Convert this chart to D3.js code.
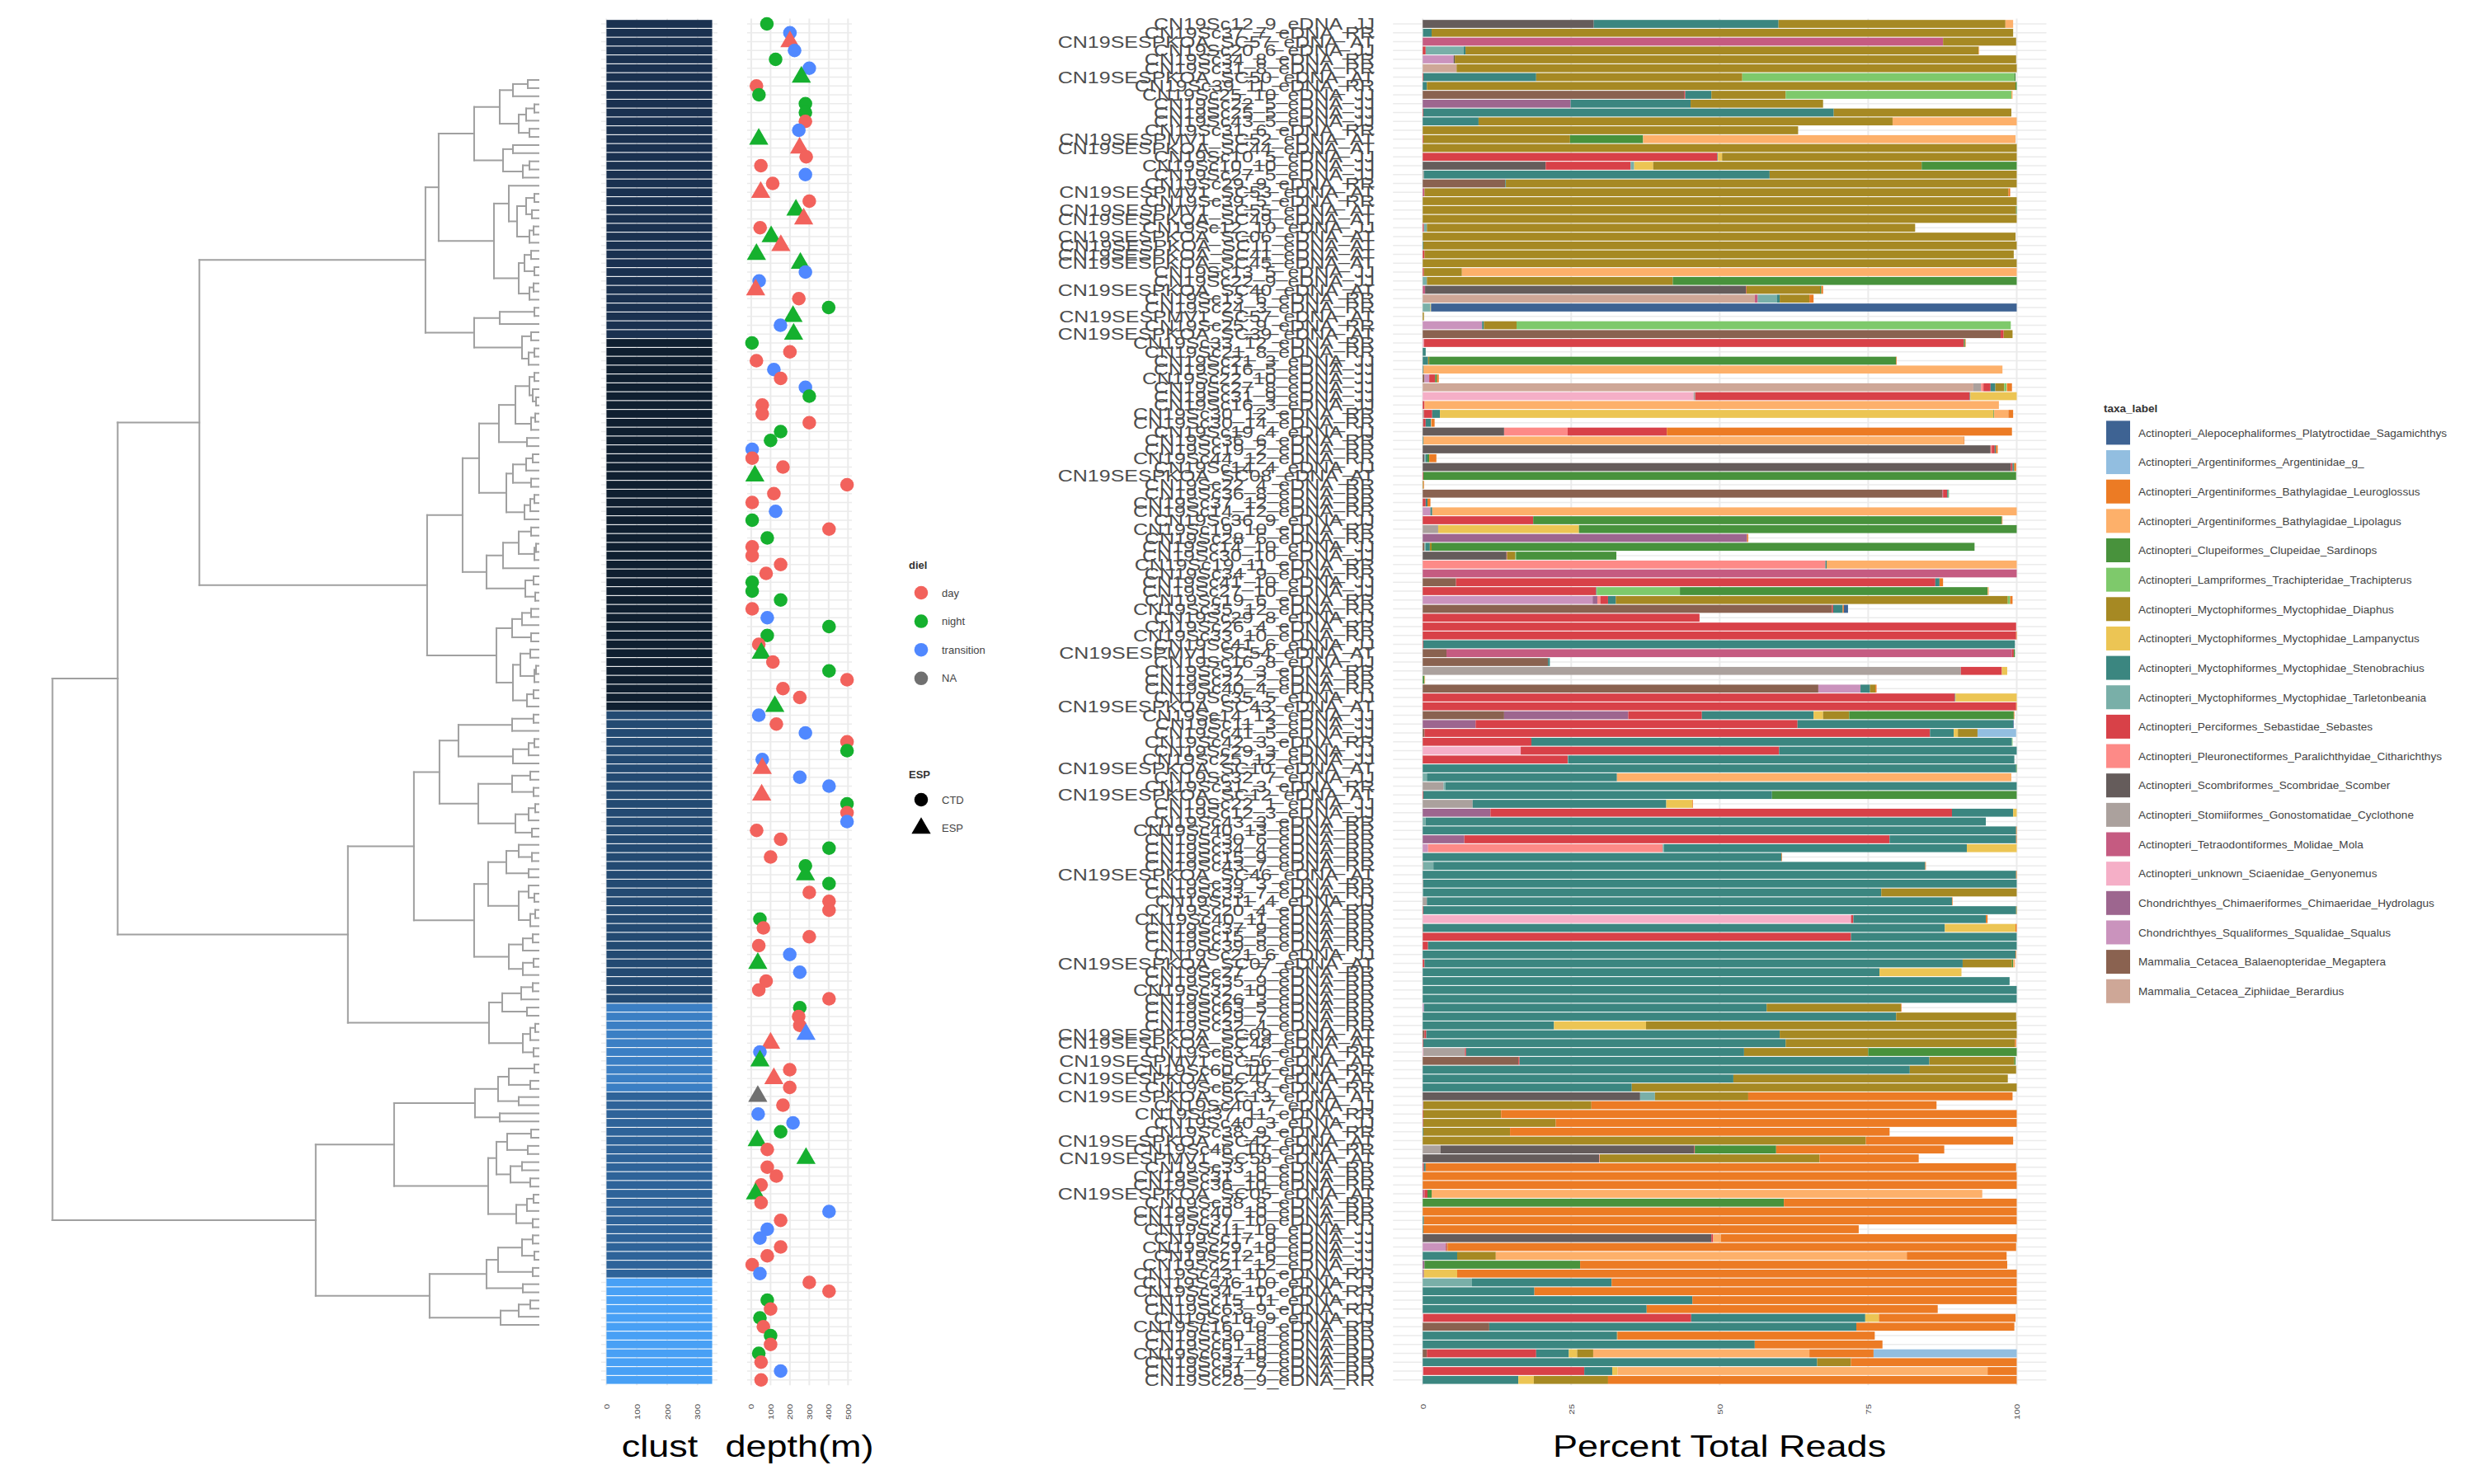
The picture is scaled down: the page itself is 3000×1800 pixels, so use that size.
<!DOCTYPE html>
<html><head><meta charset="utf-8">
<script src="https://cdn.jsdelivr.net/npm/d3@7"></script>
<style>body{margin:0;background:#fff} text{font-family:"Liberation Sans",Arial,sans-serif}</style>
</head><body><svg id="c" width="3000" height="1800"></svg>
<script>
// ---------------- DATA ----------------
const taxa = [
 "Actinopteri_Alepocephaliformes_Platytroctidae_Sagamichthys",
 "Actinopteri_Argentiniformes_Argentinidae_g_",
 "Actinopteri_Argentiniformes_Bathylagidae_Leuroglossus",
 "Actinopteri_Argentiniformes_Bathylagidae_Lipolagus",
 "Actinopteri_Clupeiformes_Clupeidae_Sardinops",
 "Actinopteri_Lampriformes_Trachipteridae_Trachipterus",
 "Actinopteri_Myctophiformes_Myctophidae_Diaphus",
 "Actinopteri_Myctophiformes_Myctophidae_Lampanyctus",
 "Actinopteri_Myctophiformes_Myctophidae_Stenobrachius",
 "Actinopteri_Myctophiformes_Myctophidae_Tarletonbeania",
 "Actinopteri_Perciformes_Sebastidae_Sebastes",
 "Actinopteri_Pleuronectiformes_Paralichthyidae_Citharichthys",
 "Actinopteri_Scombriformes_Scombridae_Scomber",
 "Actinopteri_Stomiiformes_Gonostomatidae_Cyclothone",
 "Actinopteri_Tetraodontiformes_Molidae_Mola",
 "Actinopteri_unknown_Sciaenidae_Genyonemus",
 "Chondrichthyes_Chimaeriformes_Chimaeridae_Hydrolagus",
 "Chondrichthyes_Squaliformes_Squalidae_Squalus",
 "Mammalia_Cetacea_Balaenopteridae_Megaptera",
 "Mammalia_Cetacea_Ziphiidae_Berardius"];
const taxaColors = ["#3e6393","#92bee0","#ec7b24","#fdb06a","#48923c","#7ec96b","#a68923","#ecc554",
 "#3b8680","#79afa8","#d84148","#fd8a87","#655c5b","#aba19d","#c55b81","#f5afc7","#9d668f","#ca93bd","#8a6250","#cea797"];

const samples = [
"CN19Sc12_9_eDNA_JJ","CN19Sc37_7_eDNA_RR","CN19SESPKOA_SC57_eDNA_AT","CN19Sc20_6_eDNA_JJ","CN19Sc34_8_eDNA_RR",
"CN19Sc31_8_eDNA_RR","CN19SESPKOA_SC50_eDNA_AT","CN19Sc39_11_eDNA_RR","CN19Sc25_10_eDNA_JJ","CN19Sc22_5_eDNA_JJ",
"CN19Sc25_5_eDNA_JJ","CN19Sc43_5_eDNA_JJ","CN19Sc31_6_eDNA_RR","CN19SESPMV1_SC52_eDNA_AT","CN19SESPKOA_SC44_eDNA_AT",
"CN19Sc10_5_eDNA_JJ","CN19Sc10_10_eDNA_JJ","CN19Sc27_5_eDNA_JJ","CN19Sc29_9_eDNA_RR","CN19SESPMV1_SC53_eDNA_AT",
"CN19Sc39_5_eDNA_RR","CN19SESPMV1_SC55_eDNA_AT","CN19SESPKOA_SC49_eDNA_AT","CN19Sc12_10_eDNA_JJ","CN19SESPKOA_SC06_eDNA_AT",
"CN19SESPKOA_SC11_eDNA_AT","CN19SESPKOA_SC41_eDNA_AT","CN19SESPKOA_SC45_eDNA_AT","CN19Sc13_5_eDNA_JJ","CN19Sc22_9_eDNA_JJ",
"CN19SESPKOA_SC40_eDNA_AT","CN19Sc13_6_eDNA_RR","CN19Sc24_3_eDNA_RR","CN19SESPMV1_SC57_eDNA_AT","CN19Sc25_9_eDNA_RR",
"CN19SESPKOA_SC39_eDNA_AT","CN19Sc33_12_eDNA_RR","CN19Sc21_8_eDNA_RR","CN19Sc21_3_eDNA_JJ","CN19Sc16_5_eDNA_JJ",
"CN19Sc22_10_eDNA_JJ","CN19Sc27_8_eDNA_JJ","CN19Sc31_9_eDNA_JJ","CN19Sc16_3_eDNA_JJ","CN19Sc30_12_eDNA_RR",
"CN19Sc30_14_eDNA_RR","CN19Sc19_4_eDNA_JJ","CN19Sc36_6_eDNA_RR","CN19Sc19_2_eDNA_RR","CN19Sc44_12_eDNA_RR",
"CN19Sc14_4_eDNA_JJ","CN19SESPKOA_SC08_eDNA_AT","CN19Sc22_4_eDNA_RR","CN19Sc36_8_eDNA_RR","CN19Sc37_12_eDNA_RR",
"CN19Sc14_12_eDNA_RR","CN19Sc36_9_eDNA_JJ","CN19Sc19_10_eDNA_RR","CN19Sc28_6_eDNA_RR","CN19Sc14_10_eDNA_JJ",
"CN19Sc30_10_eDNA_JJ","CN19Sc19_11_eDNA_RR","CN19Sc34_9_eDNA_RR","CN19Sc41_10_eDNA_JJ","CN19Sc27_10_eDNA_JJ",
"CN19Sc19_6_eDNA_RR","CN19Sc35_12_eDNA_RR","CN19Sc29_8_eDNA_JJ","CN19Sc26_4_eDNA_RR","CN19Sc33_10_eDNA_RR",
"CN19Sc41_6_eDNA_JJ","CN19SESPMV1_SC54_eDNA_AT","CN19Sc16_8_eDNA_JJ","CN19Sc37_3_eDNA_RR","CN19Sc22_2_eDNA_RR",
"CN19Sc40_4_eDNA_RR","CN19Sc35_5_eDNA_JJ","CN19SESPKOA_SC43_eDNA_AT","CN19Sc14_12_eDNA_JJ","CN19Sc11_3_eDNA_JJ",
"CN19Sc41_5_eDNA_JJ","CN19Sc42_3_eDNA_RR","CN19Sc29_3_eDNA_JJ","CN19Sc25_12_eDNA_JJ","CN19SESPKOA_SC10_eDNA_AT",
"CN19Sc32_7_eDNA_JJ","CN19Sc31_3_eDNA_RR","CN19SESPKOA_SC12_eDNA_AT","CN19Sc22_1_eDNA_JJ","CN19Sc12_3_eDNA_JJ",
"CN19Sc43_3_eDNA_RR","CN19Sc40_13_eDNA_RR","CN19Sc30_6_eDNA_RR","CN19Sc34_4_eDNA_RR","CN19Sc15_9_eDNA_RR",
"CN19Sc43_7_eDNA_RR","CN19SESPKOA_SC46_eDNA_AT","CN19Sc39_3_eDNA_RR","CN19Sc33_7_eDNA_RR","CN19Sc11_4_eDNA_JJ",
"CN19Sc20_4_eDNA_RR","CN19Sc40_11_eDNA_RR","CN19Sc37_9_eDNA_RR","CN19Sc15_5_eDNA_RR","CN19Sc39_8_eDNA_RR",
"CN19Sc21_6_eDNA_JJ","CN19SESPKOA_SC07_eDNA_AT","CN19Sc27_7_eDNA_RR","CN19Sc35_9_eDNA_RR","CN19Sc32_10_eDNA_RR",
"CN19Sc26_3_eDNA_RR","CN19Sc63_5_eDNA_RR","CN19Sc29_7_eDNA_RR","CN19Sc32_4_eDNA_RR","CN19SESPKOA_SC09_eDNA_AT",
"CN19SESPKOA_SC48_eDNA_AT","CN19Sc63_7_eDNA_RR","CN19SESPMV1_SC56_eDNA_AT","CN19Sc60_10_eDNA_RR","CN19SESPKOA_SC47_eDNA_AT",
"CN19Sc62_8_eDNA_RR","CN19SESPKOA_SC13_eDNA_AT","CN19Sc40_7_eDNA_JJ","CN19Sc37_11_eDNA_RR","CN19Sc40_3_eDNA_JJ",
"CN19Sc38_9_eDNA_RR","CN19SESPKOA_SC42_eDNA_AT","CN19Sc46_10_eDNA_RR","CN19SESPMV1_SC58_eDNA_AT","CN19Sc33_6_eDNA_RR",
"CN19Sc31_10_eDNA_RR","CN19Sc36_10_eDNA_RR","CN19SESPKOA_SC05_eDNA_AT","CN19Sc38_8_eDNA_RR","CN19Sc40_10_eDNA_RR",
"CN19Sc37_10_eDNA_RR","CN19Sc11_10_eDNA_JJ","CN19Sc17_9_eDNA_JJ","CN19Sc29_10_eDNA_JJ","CN19Sc12_6_eDNA_JJ",
"CN19Sc21_12_eDNA_JJ","CN19Sc43_10_eDNA_RR","CN19Sc46_10_eDNA_JJ","CN19Sc34_10_eDNA_RR","CN19Sc15_11_eDNA_JJ",
"CN19Sc63_9_eDNA_RR","CN19Sc18_9_eDNA_JJ","CN19Sc16_10_eDNA_RR","CN19Sc30_8_eDNA_RR","CN19Sc61_8_eDNA_RD",
"CN19Sc63_10_eDNA_RD","CN19Sc37_8_eDNA_RR","CN19Sc61_7_eDNA_RD","CN19Sc28_9_eDNA_RR"];

// cluster id per sample (fill of the "clust" column)
const cluster = [
1,1,1,1,1,1,1,1,1,1, 1,1,1,1,1,1,1,1,1,1, 1,1,1,1,1,1,1,1,1,1, 1,1,1,1,1,1,2,2,2,2,
2,2,2,2,2,2,2,2,2,2, 2,2,2,2,2,2,2,2,2,2, 2,2,2,2,2,2,2,2,2,2, 2,2,2,2,2,2,2,2,3,3,
3,3,3,3,3,3,3,3,3,3, 3,3,3,3,3,3,3,3,3,3, 3,3,3,3,3,3,3,3,3,3, 3,4,4,4,4,4,4,4,4,4,
4,5,5,5,5,5,5,5,5,5, 5,5,5,5,5,5,5,5,5,5, 5,5,6,6,6,6,6,6,6,6, 6,6,6,6];
const clusterColors = ["#1a3150","#0f1f30","#234a72","#3b7fc4","#2e6399","#48a0f5"];
const clustCount = 348;

const depth = [
81,200,200,224,126,300,259,27,40,280, 280,280,246,39,250,284,50,280,111,49,
300,231,271,46,103,153,27,254,280,41, 23,246,400,216,151,219,4,200,27,117,
152,280,300,57,57,300,152,100,5,5, 164,19,495,117,5,126,5,402,83,5,
5,152,77,5,5,152,5,83,402,83, 39,52,112,402,495,164,251,122,39,130,
280,495,495,57,57,251,402,54,495,495, 495,28,152,402,100,280,280,402,300,402,
402,45,63,300,39,199,34,251,77,39, 402,251,245,251,283,100,45,45,199,117,
199,34,164,36,216,152,31,83,283,83, 130,51,22,51,402,152,83,45,152,83,
5,45,300,402,83,100,45,63,100,100, 39,51,152,51];

const D="day", N="night", T="transition", X="NA";
const diel = [
N,T,D,T,N,T,N,D,N,N, N,D,T,N,D,D,D,T,D,D, D,N,D,D,N,D,N,N,T,T, D,D,N,N,T,N,N,D,D,T,
D,T,N,D,D,D,N,N,T,D, D,N,D,D,D,T,N,D,N,D, D,D,D,N,N,N,D,T,N,N, D,N,D,N,D,D,D,N,T,D,
T,D,N,T,D,T,T,D,N,D, T,D,D,N,D,N,N,N,D,D, D,N,D,D,D,T,N,T,D,D, D,N,D,D,T,D,T,N,D,D,
D,X,D,T,T,N,N,D,N,D, D,D,N,D,T,D,T,T,D,D, D,T,D,D,N,D,N,D,N,D, N,D,T,D];
const dielLevels = ["day","night","transition","NA"];
const dielColors = ["#f2625c","#15b02e","#5088ff","#707070"];

const C="CTD", E="ESP";
const method = [
C,C,E,C,C,C,E,C,C,C, C,C,C,E,E,C,C,C,C,E, C,E,E,C,E,E,E,E,C,C, E,C,C,E,C,E,C,C,C,C,
C,C,C,C,C,C,C,C,C,C, C,E,C,C,C,C,C,C,C,C, C,C,C,C,C,C,C,C,C,C, C,E,C,C,C,C,C,E,C,C,
C,C,C,C,E,C,C,E,C,C, C,C,C,C,C,C,E,C,C,C, C,C,C,C,C,C,E,C,C,C, C,C,C,C,E,E,C,E,C,E,
C,E,C,C,C,C,E,C,E,C, C,C,E,C,C,C,C,C,C,C, C,C,C,C,C,C,C,C,C,C, C,C,C,C];
const methodLevels = ["CTD","ESP"];

// percent of reads per sample: [taxon index, percent]
const composition = [
[[12,28.8],[8,31.1],[6,38.2],[3,1.3]],
[[9,0.1],[8,1.4],[6,97.9]],
[[14,87.6],[6,12.3]],
[[10,0.5],[9,6.4],[8,0.3],[6,86.4],[3,0.1]],
[[17,5.2],[12,0.2],[6,94.5]],
[[19,5.7],[6,94.3]],
[[10,0.1],[8,19.0],[6,34.7],[5,45.8],[4,0.2]],
[[8,0.7],[6,99.1],[4,0.2]],
[[18,44.0],[10,0.2],[8,4.4],[6,12.5],[5,38.0],[3,0.2]],
[[16,24.9],[8,20.2],[6,22.3]],
[[10,0.1],[8,69.1],[6,29.9]],
[[8,9.4],[6,69.7],[3,20.9]],
[[6,63.2]],
[[10,0.1],[6,24.7],[4,12.3],[3,62.7]],
[[6,100]],
[[10,49.6],[8,0.1],[7,0.7],[6,49.6]],
[[12,20.7],[10,14.3],[9,0.6],[7,3.2],[6,45.2],[4,16.0]],
[[13,0.2],[8,58.2],[6,41.6]],
[[18,13.9],[8,0.1],[6,86.0]],
[[14,0.3],[6,98.3],[2,0.3]],
[[6,100]],
[[6,99.9],[4,0.1]],
[[6,100]],
[[10,0.2],[9,0.5],[6,82.2]],
[[6,99.8]],
[[8,0.1],[6,99.9]],
[[10,0.3],[6,99.2]],
[[6,100]],
[[10,0.2],[6,6.4],[3,93.4]],
[[9,0.7],[6,41.4],[4,57.9]],
[[14,0.4],[12,54.0],[10,0.1],[6,12.4],[4,0.2],[2,0.3]],
[[19,55.9],[14,0.5],[9,3.2],[8,0.5],[6,5.0],[2,0.7]],
[[9,1.3],[7,0.1],[0,98.6]],
[[6,0.2]],
[[17,10.0],[8,0.3],[6,5.5],[5,83.2]],
[[18,97.3],[10,0.5],[6,1.5]],
[[15,0.2],[10,90.9],[4,0.2],[2,0.1]],
[[8,0.5]],
[[8,0.9],[6,0.2],[4,78.6],[2,0.1]],
[[8,0.1],[3,97.5]],
[[18,0.3],[17,0.8],[10,1.0],[4,0.3],[2,0.3]],
[[19,92.7],[13,1.3],[11,0.4],[10,1.2],[8,0.8],[6,1.5],[5,0.4],[3,0.1],[2,0.8]],
[[15,45.6],[13,0.3],[10,46.2],[8,0.1],[7,7.8]],
[[10,0.3],[3,96.7]],
[[13,0.2],[10,1.4],[8,1.3],[7,93.2],[4,0.1],[3,2.4],[2,0.8]],
[[13,0.1],[10,0.4],[8,0.9],[3,0.1],[2,0.5]],
[[12,13.7],[11,10.7],[10,16.7],[2,58.1]],
[[8,0.1],[3,91.0],[2,0.1]],
[[12,95.6],[11,0.2],[10,0.5],[8,0.2],[2,0.3]],
[[12,0.3],[9,0.2],[8,0.3],[4,0.3],[2,1.2]],
[[12,99.0],[10,0.3],[8,0.2],[4,0.1],[2,0.3]],
[[10,0.1],[4,99.8]],
[[6,0.1],[2,0.1]],
[[18,87.5],[14,0.1],[10,0.7],[8,0.2],[5,0.1]],
[[10,0.5],[8,0.3],[2,0.5]],
[[17,1.3],[8,0.3],[3,98.4]],
[[10,18.6],[4,78.9],[2,0.1]],
[[13,2.6],[7,23.7],[4,73.7]],
[[16,54.6],[2,0.2]],
[[18,0.3],[9,0.2],[8,0.7],[6,0.3],[4,91.4]],
[[12,14.1],[10,0.1],[6,1.4],[5,0.1],[4,16.9]],
[[11,67.8],[8,0.2],[3,32.0]],
[[14,100]],
[[18,5.6],[10,80.7],[8,0.7],[2,0.6]],
[[10,29.2],[8,0.1],[5,14.0],[4,51.8],[3,0.2]],
[[17,28.6],[16,0.8],[11,0.5],[10,1.3],[8,1.3],[6,66.0],[5,0.4],[2,0.4]],
[[18,68.9],[10,0.2],[8,1.6],[2,0.2],[0,0.7]],
[[10,46.6]],
[[10,99.9]],
[[10,99.9],[2,0.1]],
[[10,0.1],[8,99.6]],
[[18,4.0],[14,95.2],[10,0.3],[4,0.2]],
[[18,21.1],[8,0.3]],
[[13,90.6],[10,6.9],[7,0.9]],
[[4,0.3],[3,0.1]],
[[18,66.6],[17,7.1],[8,1.6],[6,0.9],[2,0.2]],
[[10,89.6],[8,0.1],[7,10.3]],
[[10,99.9],[2,0.1]],
[[18,13.7],[16,20.9],[10,12.4],[8,18.8],[7,1.6],[6,4.4],[4,27.7],[2,0.1]],
[[16,8.9],[10,54.2],[8,36.3],[0,0.1]],
[[18,0.3],[10,85.1],[8,4.0],[7,0.7],[6,3.3],[1,6.5]],
[[10,18.3],[8,80.9],[5,0.1]],
[[15,16.5],[10,43.5],[8,40.0]],
[[10,24.4],[9,0.1],[8,75.1]],
[[8,99.9],[4,0.1]],
[[9,0.7],[8,32.0],[3,66.4]],
[[13,3.5],[9,0.3],[8,96.2]],
[[10,0.1],[8,58.7],[4,41.2]],
[[13,8.4],[8,32.6],[7,4.4],[2,0.1]],
[[16,11.4],[10,77.7],[8,10.3],[7,0.6]],
[[9,0.5],[8,94.3]],
[[8,99.9],[2,0.1]],
[[16,7.0],[10,71.6],[8,21.3],[2,0.1]],
[[17,0.9],[11,39.5],[9,0.2],[8,51.0],[7,8.4]],
[[8,60.4],[2,0.1]],
[[13,0.1],[9,1.7],[8,82.8],[2,0.1]],
[[8,99.9],[2,0.1]],
[[13,0.1],[8,99.9]],
[[9,0.1],[8,77.1],[6,22.8]],
[[13,0.7],[8,88.4],[2,0.1]],
[[10,0.1],[8,99.8],[6,0.1]],
[[15,72.1],[10,0.4],[8,22.3],[2,0.3]],
[[18,0.1],[8,87.8],[7,11.9],[2,0.2]],
[[10,72.1],[8,27.9]],
[[10,0.9],[8,99.1]],
[[8,99.8],[2,0.1]],
[[10,0.3],[8,90.6],[6,8.3],[4,0.2],[3,0.3]],
[[8,76.9],[7,13.8]],
[[8,98.8]],
[[8,100]],
[[8,100]],
[[17,0.2],[8,57.7],[6,22.6],[2,0.1]],
[[8,79.7],[6,20.2]],
[[8,22.1],[7,15.5],[6,62.4]],
[[18,0.3],[10,0.3],[8,59.5],[6,39.9]],
[[10,0.1],[8,61.0],[6,38.6],[2,0.2]],
[[15,0.1],[13,7.0],[10,0.2],[8,46.8],[6,20.9],[4,25.0]],
[[18,16.1],[10,0.2],[8,69.0],[6,14.3],[4,0.2]],
[[8,82.0],[6,17.9]],
[[8,52.3],[6,46.2]],
[[8,35.2],[6,64.8]],
[[12,36.6],[9,2.5],[6,15.7],[2,44.5]],
[[17,0.1],[6,28.3],[2,58.1]],
[[10,0.1],[6,13.1],[2,86.8]],
[[14,0.1],[6,22.3],[2,77.6]],
[[8,0.1],[6,14.6],[2,63.9]],
[[6,74.6],[2,24.8]],
[[13,3.0],[12,42.7],[10,0.1],[4,13.7],[2,28.3]],
[[12,29.7],[11,0.1],[6,37.0],[2,16.7]],
[[10,0.2],[8,0.3],[2,99.4]],
[[2,100]],
[[2,100]],
[[14,0.3],[10,0.5],[4,0.7],[3,92.7]],
[[4,60.8],[2,39.2]],
[[2,100]],
[[8,0.2],[2,99.8]],
[[8,0.1],[2,73.3]],
[[12,48.6],[10,0.3],[3,1.3],[2,49.8]],
[[17,3.8],[16,0.1],[10,0.2],[6,0.1],[2,95.7]],
[[8,5.8],[6,6.5],[3,69.2],[2,16.8]],
[[16,0.3],[4,26.2],[2,71.9]],
[[16,0.2],[7,5.6],[2,94.2]],
[[9,8.3],[8,23.5],[2,68.2]],
[[8,18.8],[2,81.2]],
[[8,45.4],[2,54.6]],
[[8,37.7],[2,49.0]],
[[15,0.1],[10,45.1],[8,29.3],[7,2.3],[2,23.0]],
[[18,11.2],[8,61.8],[2,26.6]],
[[8,32.7],[6,0.1],[2,43.3]],
[[8,55.9],[2,21.5]],
[[18,0.7],[10,18.4],[8,5.5],[7,1.4],[6,2.7],[3,36.4],[2,10.8],[1,24.1]],
[[8,66.4],[6,5.7],[2,27.9]],
[[15,0.1],[10,27.1],[8,4.7],[7,0.9],[3,62.3],[2,4.9]],
[[8,16.1],[7,2.6],[6,12.5],[2,68.8]]
];

// dendrogram: [merge height, left, right]; 0 = leaf
const treeF = [1.37,
  [1.21,
    [0.78,
      [0.47,[0.31,[0.13,0,0],0],[0.24,[0.15,[0.05,0,0],0],[0.11,0,0]]],
      [0.43,[0.31,0,0],[0.19,[0.11,0,0],0]]],
    [0.54,
      [0.36,0,[0.26,[0.15,[0.05,0,0],[0.08,0,0]],[0.11,[0.06,0,0],0]]],
      [0.24,[0.17,[0.09,0,0],[0.05,0,0]],[0.11,[0.06,0,0],0]]]],
  [0.78,[0.47,[0.05,0,0],0],[0.20,[0.09,0,0],[0.12,[0.05,0,0],0]]]];
const treeG = [1.35,
  [0.92,
    [0.72,
      [0.48,[0.28,[0.11,[0.05,0,0],[0.07,0,[0.03,0,0]]],[0.09,[0.04,0,0],0]],[0.14,0,0]],
      [0.39,[0.31,[0.15,[0.07,0,0],0],[0.09,0,0]],[0.17,[0.10,[0.05,0,0],0],0]]],
    [0.63,[0.43,[0.24,[0.09,0,0],[0.05,[0.03,0,0],0]],0],[0.16,[0.06,0,0],[0.04,0,0]]]],
  [0.51,[0.32,[0.20,[0.09,0,0],0],[0.09,0,0]],[0.31,[0.22,[0.10,0,0],[0.05,[0.03,0,0],0]],[0.14,[0.06,0,0],0]]]];
const treeE = [2.31,
  [1.51,
    [1.20,
      [0.97,[0.32,[0.06,0,0],0],[0.31,[0.12,[0.05,0,0],0],0]],
      [0.73,[0.32,[0.10,0,0],[0.06,0,0]],[0.28,[0.12,[0.04,0,0],0],[0.08,0,0]]]],
    [0.78,
      [0.61,[0.39,[0.24,0,[0.08,0,0]],[0.12,0,0]],[0.24,[0.12,0,[0.05,0,0]],[0.10,[0.04,0,0],0]]],
      [0.36,[0.19,[0.07,0,0],0],[0.19,[0.06,0,0],0]]]],
  [0.60,[0.44,[0.21,[0.07,0,0],0],[0.14,0,0]],[0.19,[0.10,[0.04,0,0],0],[0.06,0,0]]]];
const treeC = [2.70,
  [1.75,
    [0.77,[0.49,[0.36,[0.05,0,0],[0.10,0,0]],[0.24,0,0]],[0.47,0,0]],
    [0.61,[0.51,[0.38,[0.09,0,0],[0.13,0,0]],[0.34,[0.20,0,0],[0.10,0,0]]],[0.27,[0.14,[0.06,0,0],0],[0.07,0,0]]]],
  [1.32,[0.63,[0.49,[0.20,[0.07,0,0],[0.05,0,0]],[0.07,0,0]],[0.19,0,0]],[0.46,[0.24,[0.10,0,0],0],0]]];
const tree = [5.89,[5.10,[4.11,treeF,treeG],treeE],treeC];

const clustTicks = [0,100,200,300];
const depthTicks = [0,100,200,300,400,500];
const pctTicks = [0,25,50,75,100];

// ---------------- DRAWING ----------------
const svg = d3.select("#c");
const n = samples.length;
const grid = "#ebebeb", tickCol = "#4d4d4d";
const rowY = d3.scalePoint().domain(d3.range(n)).range([29, 1673.75]);
const bandH = rowY.step() * 0.9;
const panelTop = 22.6, panelBot = 1680.2;

const clustX = d3.scaleLinear().domain([-17.4, 365.4]).range([729, 870]);
const depthX = d3.scaleLinear().domain([-21, 520]).range([906, 1033]);
const pctX = d3.scaleLinear().domain([-5, 105]).range([1689.2, 2481.5]);
const clustFill = d3.scaleOrdinal().domain([1,2,3,4,5,6]).range(clusterColors);
const dielFill = d3.scaleOrdinal().domain(dielLevels).range(dielColors);
const taxFill = d3.scaleOrdinal().domain(d3.range(taxa.length)).range(taxaColors);

function panelGrid(xs, ticks) {
  const g = svg.append("g");
  const [x0, x1] = xs.range();
  g.selectAll("line.h").data(d3.range(n)).join("line")
    .attr("x1", x0).attr("x2", x1).attr("y1", d => rowY(d)).attr("y2", d => rowY(d))
    .attr("stroke", grid).attr("stroke-width", 1.6);
  g.selectAll("line.v").data(ticks).join("line")
    .attr("x1", d => xs(d)).attr("x2", d => xs(d)).attr("y1", panelTop).attr("y2", panelBot)
    .attr("stroke", grid).attr("stroke-width", 2);
  svg.append("g").selectAll("text").data(ticks).join("text")
    .attr("transform", d => `translate(${xs(d)+3.5},1703) rotate(-90) scale(1.2,1)`)
    .attr("text-anchor", "end").attr("font-size", 9.5).attr("fill", tickCol)
    .text(d => d);
}
panelGrid(clustX, clustTicks);
panelGrid(depthX, depthTicks);
panelGrid(pctX, pctTicks);

// clust column
svg.append("g").selectAll("rect").data(d3.range(n)).join("rect")
  .attr("x", clustX(0)).attr("width", clustX(clustCount) - clustX(0))
  .attr("y", d => rowY(d) - bandH/2).attr("height", bandH)
  .attr("fill", d => clustFill(cluster[d]));

// depth points
const sym = d3.symbol();
svg.append("g").selectAll("path").data(d3.range(n)).join("path")
  .attr("transform", d => `translate(${depthX(depth[d])},${rowY(d)})`)
  .attr("d", d => method[d] === "ESP" ? sym.type(d3.symbolTriangle).size(235)() : sym.type(d3.symbolCircle).size(215)())
  .attr("fill", d => dielFill(diel[d]));

// stacked bars
const segs = [];
composition.forEach((row, i) => {
  let acc = 0;
  row.slice().sort((a, b) => b[0] - a[0]).forEach(([t, v]) => {
    segs.push({i, t, x0: acc, x1: acc + v});
    acc += v;
  });
});
svg.append("g").selectAll("rect").data(segs).join("rect")
  .attr("x", d => pctX(d.x0)).attr("width", d => Math.max(0.6, pctX(d.x1) - pctX(d.x0)))
  .attr("y", d => rowY(d.i) - bandH/2).attr("height", bandH)
  .attr("fill", d => taxFill(d.t));

// sample labels
svg.append("g").selectAll("text").data(d3.range(n)).join("text")
  .attr("transform", d => `translate(1667,${rowY(d)}) scale(1.25,1)`)
  .attr("dy", "0.36em").attr("text-anchor", "end").attr("font-size", 20).attr("fill", tickCol)
  .text(d => samples[d]);

// axis titles
[["clust", 800], ["depth(m)", 969.5], ["Percent Total Reads", 2085]].forEach(([t, x]) => {
  svg.append("text").attr("transform", `translate(${x},1767) scale(1.25,1)`)
    .attr("text-anchor", "middle").attr("font-size", 36).attr("fill", "#000").text(t);
});

// dendrogram
function countLeaves(nd) { return nd === 0 ? 1 : countLeaves(nd[1]) + countLeaves(nd[2]); }
const nLeaves = countLeaves(tree);
const leafY = d3.scaleLinear().domain([0, nLeaves - 1]).range([97, 1607]);
const hX = d3.scaleLinear().domain([0, tree[0]]).range([653, 63.6]);
let leafIdx = 0;
const dSegs = [];
function lay(nd) {
  if (nd === 0) return {h: 0, y: leafY(leafIdx++)};
  const a = lay(nd[1]), b = lay(nd[2]);
  const me = {h: nd[0], y: (a.y + b.y) / 2};
  dSegs.push([me.h, a.y, me.h, b.y]);
  dSegs.push([me.h, a.y, a.h, a.y]);
  dSegs.push([me.h, b.y, b.h, b.y]);
  return me;
}
lay(tree);
svg.append("g").selectAll("line").data(dSegs).join("line")
  .attr("x1", d => hX(d[0])).attr("y1", d => d[1]).attr("x2", d => hX(d[2])).attr("y2", d => d[3])
  .attr("stroke", "#a0a0a0").attr("stroke-width", 2).attr("stroke-linecap", "square");

// diel / ESP legends
const lg = svg.append("g");
lg.append("text").attr("x", 1102).attr("y", 685).attr("dy", "0.35em").attr("font-size", 13).attr("font-weight", "bold").attr("fill", "#333").text("diel");
dielLevels.forEach((lv, k) => {
  const y = 719 + k * 34.6;
  lg.append("path").attr("transform", `translate(1117,${y})`).attr("d", d3.symbol().type(d3.symbolCircle).size(215)()).attr("fill", dielFill(lv));
  lg.append("text").attr("x", 1142).attr("y", y).attr("dy", "0.35em").attr("font-size", 13).attr("fill", "#444").text(lv);
});
lg.append("text").attr("x", 1102).attr("y", 939).attr("dy", "0.35em").attr("font-size", 13).attr("font-weight", "bold").attr("fill", "#333").text("ESP");
methodLevels.forEach((lv, k) => {
  const y = 970 + k * 34.6;
  lg.append("path").attr("transform", `translate(1117,${y})`)
    .attr("d", d3.symbol().type(lv === "ESP" ? d3.symbolTriangle : d3.symbolCircle).size(lv === "ESP" ? 235 : 215)()).attr("fill", "#000");
  lg.append("text").attr("x", 1142).attr("y", y).attr("dy", "0.35em").attr("font-size", 13).attr("fill", "#444").text(lv);
});

// taxa legend
const tl = svg.append("g");
tl.append("text").attr("x", 2551).attr("y", 495.6).attr("dy", "0.35em").attr("font-size", 13.5).attr("font-weight", "bold").attr("fill", "#333").text("taxa_label");
taxa.forEach((t, k) => {
  const y = 524.9 + k * 35.65;
  tl.append("rect").attr("x", 2554).attr("y", y - 14.5).attr("width", 29).attr("height", 29).attr("fill", taxFill(k));
  tl.append("text").attr("x", 2593).attr("y", y).attr("dy", "0.35em").attr("font-size", 13.6).attr("fill", "#444").text(t);
});
</script></body></html>
